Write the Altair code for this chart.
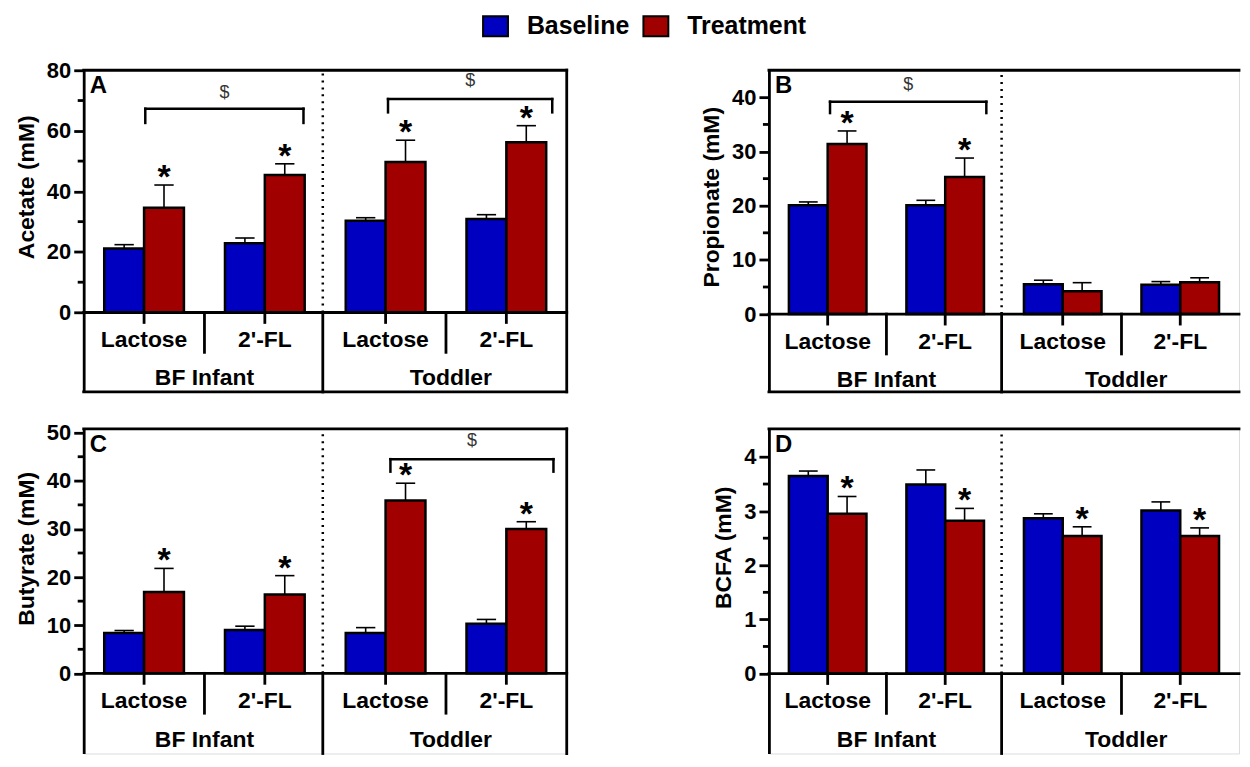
import altair as alt
import pandas as pd

BLUE = "#0000C0"
RED = "#A00000"
FONT = "Liberation Sans"

# ---------------- data ----------------
sugars = ["Lactose", "2'-FL", "Lactose", "2'-FL"]
ages = ["BF Infant", "Toddler"]
series_names = ["Baseline", "Treatment"]

acetate_base = [21.1, 22.9, 30.3, 30.9]
acetate_base_err = [22.4, 24.6, 31.3, 32.3]
acetate_trt = [34.6, 45.4, 49.7, 56.2]
acetate_trt_err = [42.1, 49.1, 56.9, 61.7]
acetate_star = [True, True, True, True]

propionate_base = [20.1, 20.1, 5.5, 5.4]
propionate_base_err = [20.7, 21.0, 6.25, 6.0]
propionate_trt = [31.4, 25.3, 4.2, 5.9]
propionate_trt_err = [33.8, 28.8, 5.8, 6.7]
propionate_star = [True, True, False, False]

butyrate_base = [8.4, 9.0, 8.4, 10.3]
butyrate_base_err = [8.9, 9.8, 9.5, 11.2]
butyrate_trt = [16.9, 16.4, 35.9, 30.0]
butyrate_trt_err = [21.8, 20.3, 39.5, 31.5]
butyrate_star = [True, True, True, True]

bcfa_base = [3.65, 3.49, 2.87, 3.01]
bcfa_base_err = [3.74, 3.76, 2.95, 3.17]
bcfa_trt = [2.95, 2.82, 2.54, 2.54]
bcfa_trt_err = [3.27, 3.05, 2.71, 2.69]
bcfa_star = [True, True, True, True]

# significance brackets: (x start, x end, bar height, foot height, "$" height)
acetate_brackets = [(0.51, 1.82, 67.3, 62.6, 72.4), (2.52, 3.88, 70.5, 66.1, 76.3)]
propionate_brackets = [(0.52, 1.85, 39.2, 37.1, 42.3)]
butyrate_brackets = [(2.54, 3.89, 44.5, 41.9, 48.3)]
bcfa_brackets = []

# ---------------- layout constants ----------------
CENTERS = [0.5, 1.5, 2.5, 3.5]
AGE_POS = [1.0, 3.04]
SUGAR_SEPS = [1.0, 3.0]
SPLIT = 1.98
BAR_W = 0.33
CAP = 0.08


def make_panel(letter, ytitle, base, base_err, trt, trt_err, stars, brackets,
               ymin, ymax, major, minor, width, height, title_y, row2_px,
               right_frame, bottom_frame):
    ppu = height / (ymax - ymin)
    xs = alt.Scale(domain=[0, 4], nice=False, zero=False)
    ys = alt.Scale(domain=[ymin, ymax], nice=False, zero=False)
    yaxis = alt.Axis(values=major, title=ytitle, titleY=title_y, grid=False,
                     domainColor="black", domainWidth=2.8, tickColor="black",
                     tickWidth=2.8, tickSize=10, labelPadding=3,
                     labelFont=FONT, labelFontSize=22, labelFontWeight="bold",
                     labelColor="black", titleFont=FONT, titleFontSize=23,
                     titleFontWeight="bold", titleColor="black", titlePadding=8)

    def X(f):
        return alt.X(f, type="quantitative", scale=xs, axis=None)

    def Y(f):
        return alt.Y(f, type="quantitative", scale=ys, axis=yaxis)

    bars = pd.DataFrame({
        "series": [series_names[0]] * 4 + [series_names[1]] * 4,
        "x0": [c - BAR_W for c in CENTERS] + CENTERS,
        "x1": CENTERS + [c + BAR_W for c in CENTERS],
        "value": base + trt,
        "err": base_err + trt_err,
        "star": [False] * 4 + stars,
    })
    bars["zero"] = 0.0
    bars["xc"] = (bars["x0"] + bars["x1"]) / 2
    bars["c0"] = bars["xc"] - CAP
    bars["c1"] = bars["xc"] + CAP

    err_rule = alt.Chart(bars).mark_rule(color="black", strokeWidth=1.6).encode(
        x=X("xc"), y=Y("value"), y2="err")
    err_cap = alt.Chart(bars).mark_rule(color="black", strokeWidth=1.6).encode(
        x=X("c0"), x2="c1", y=Y("err"))
    bar = alt.Chart(bars).mark_bar(stroke="black", strokeWidth=2.5).encode(
        x=X("x0"), x2="x1", y=Y("value"), y2="zero",
        color=alt.Color("series:N",
                        scale=alt.Scale(domain=series_names, range=[BLUE, RED]),
                        legend=alt.Legend(orient="none", legendX=401, legendY=-57,
                                          direction="horizontal", title=None,
                                          symbolType="M-1.25,-1H1.25V1H-1.25Z",
                                          symbolSize=400,
                                          symbolStrokeColor="black",
                                          symbolStrokeWidth=2, symbolOpacity=1,
                                          labelFont=FONT, labelFontSize=25,
                                          labelFontWeight="bold", labelColor="black",
                                          labelOffset=19, columnPadding=10,
                                          padding=0)))
    star_df = bars[bars["star"]]
    star = alt.Chart(star_df).mark_text(text="*", font=FONT, fontSize=34,
                                        fontWeight="bold", color="black",
                                        baseline="alphabetic", dy=3).encode(
        x=X("xc"), y=Y("err"))

    segs = []
    w_frame = 2.8
    segs.append((0, 4, 0, 0, w_frame))
    segs.append((0, 4, ymax, ymax, w_frame))
    if right_frame:
        segs.append((4, 4, ymin, ymax, w_frame))
    if bottom_frame:
        segs.append((0, 4, ymin, ymin, w_frame))
    segs.append((SPLIT, SPLIT, ymin, 0, w_frame))
    for c in CENTERS:
        segs.append((c, c, -10 / ppu, 0, w_frame))
    for s in SUGAR_SEPS:
        segs.append((s, s, -40 / ppu, 0, w_frame))
    for (xa, xb, yt, yf, yd) in brackets:
        segs.append((xa, xb, yt, yt, 2.5))
        segs.append((xa, xa, yf, yt, 2.5))
        segs.append((xb, xb, yf, yt, 2.5))
    seg_df = pd.DataFrame(segs, columns=["x", "x2", "y", "y2", "w"])
    lines = alt.Chart(seg_df).mark_rule(color="black", strokeCap="square").encode(
        x=X("x"), x2="x2", y=Y("y"), y2="y2",
        strokeWidth=alt.StrokeWidth("w:Q", scale=None))

    dot_df = pd.DataFrame({"x": [SPLIT], "y": [0.0], "y2": [ymax]})
    dotted = alt.Chart(dot_df).mark_rule(color="black", strokeWidth=2.5,
                                         strokeDash=[2, 5]).encode(
        x=X("x"), y=Y("y"), y2="y2")

    minor_df = pd.DataFrame({"v": minor})
    minor_ticks = alt.Chart(minor_df).mark_rule(color="black", strokeWidth=2.8).encode(
        x=alt.value(-6), x2=alt.value(0), y=Y("v"))

    layers = [err_rule, err_cap, bar, star, lines, dotted, minor_ticks]

    if brackets:
        dollar_df = pd.DataFrame({
            "x": [(b[0] + b[1]) / 2 for b in brackets],
            "y": [b[4] for b in brackets],
        })
        dollar = alt.Chart(dollar_df).mark_text(text="$", font=FONT, fontSize=18,
                                                color="#333333", baseline="middle").encode(
            x=X("x"), y=Y("y"))
        layers.append(dollar)

    sugar_df = pd.DataFrame({"x": CENTERS, "y": [-28 / ppu] * 4, "t": sugars})
    sugar_txt = alt.Chart(sugar_df).mark_text(font=FONT, fontSize=23, fontWeight="bold",
                                              color="black", baseline="middle").encode(
        x=X("x"), y=Y("y"), text="t:N")
    age_df = pd.DataFrame({"x": AGE_POS, "y": [-row2_px / ppu] * 2, "t": ages})
    age_txt = alt.Chart(age_df).mark_text(font=FONT, fontSize=23, fontWeight="bold",
                                          color="black", baseline="middle").encode(
        x=X("x"), y=Y("y"), text="t:N")
    letter_df = pd.DataFrame({"x": [0.0], "y": [ymax], "t": [letter]})
    letter_txt = alt.Chart(letter_df).mark_text(font=FONT, fontSize=24, fontWeight="bold",
                                                color="black", align="left",
                                                baseline="alphabetic", dx=6, dy=23).encode(
        x=X("x"), y=Y("y"), text="t:N")
    layers += [sugar_txt, age_txt, letter_txt]

    return alt.layer(*layers).properties(width=width, height=height)


pA = make_panel("A", "Acetate (mM)", acetate_base, acetate_base_err, acetate_trt,
                acetate_trt_err, acetate_star, acetate_brackets,
                -26.25, 80, [0, 20, 40, 60, 80], [10, 30, 50, 70],
                485, 323, 117, 66, True, True)
pB = make_panel("B", "Propionate (mM)", propionate_base, propionate_base_err,
                propionate_trt, propionate_trt_err, propionate_star, propionate_brackets,
                -14.37, 45, [0, 10, 20, 30, 40], [5, 15, 25, 35],
                472, 323, 127, 66, False, True)
pC = make_panel("C", "Butyrate (mM)", butyrate_base, butyrate_base_err, butyrate_trt,
                butyrate_trt_err, butyrate_star, butyrate_brackets,
                -16.65, 50.8, [0, 10, 20, 30, 40, 50], [5, 15, 25, 35, 45],
                485, 326, 120, 67, True, False)
pD = make_panel("D", "BCFA (mM)", bcfa_base, bcfa_base_err, bcfa_trt, bcfa_trt_err,
                bcfa_star, bcfa_brackets,
                -1.477, 4.52, [0, 1, 2, 3, 4], [0.5, 1.5, 2.5, 3.5],
                472, 326, 119, 67, False, False)

chart = alt.concat(pA, pB, pC, pD, columns=2,
                   spacing={"row": 37, "column": 203}, bounds="flush").properties(
    padding={"left": 7, "top": 4, "right": 0, "bottom": 0}
).configure_view(stroke=None).configure(background="white")

chart.save("out.html", embed_options={"renderer": "svg", "actions": False})
